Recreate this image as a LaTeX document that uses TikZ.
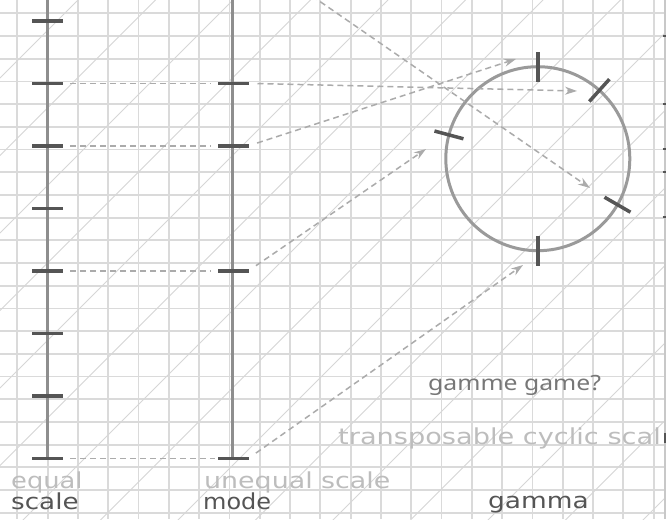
\documentclass[tikz,border=0pt]{standalone}
\usepackage{fontspec}
\usepackage{graphicx}
\newfontfamily\labfont{DejaVu Sans}
\newfontfamily\notefont{Noto Sans}
\usetikzlibrary{arrows.meta,calc}
\definecolor{gridc}{HTML}{DADADA}
\definecolor{diagc}{HTML}{D6D6D6}
\definecolor{axisc}{HTML}{8E8E8E}
\definecolor{tickc}{HTML}{555555}
\definecolor{dashc}{HTML}{ABABAB}
\definecolor{circc}{HTML}{9A9A9A}
\definecolor{faintc}{HTML}{BDBDBD}
\definecolor{darkc}{HTML}{555555}
\definecolor{notec}{HTML}{777777}
\begin{document}
\begin{tikzpicture}[x=1pt,y=-1pt,
  gridline/.style={gridc, line width=1.8pt},
  diagline/.style={diagc, line width=1pt},
  axisline/.style={axisc, line width=3pt},
  tickmark/.style={rectangle, fill=tickc, minimum width=31pt, minimum height=3.5pt, inner sep=0pt, outer sep=0pt},
  ctick/.style={tickc, line width=3.5pt},
  link/.style={dashc, line width=1.5pt, dash pattern=on 6pt off 4pt},
  linkarrow/.style={link, -{Stealth[length=12pt,width=8pt]}},
  faintlabel/.style={anchor=base west, inner sep=0pt, text=faintc, font=\labfont\fontsize{22}{26}\selectfont},
  darklabel/.style={anchor=base west, inner sep=0pt, text=darkc, font=\labfont\fontsize{22}{26}\selectfont},
  notelabel/.style={anchor=base west, inner sep=0pt, text=notec, font=\notefont\fontsize{21}{25}\selectfont},
  edgestub/.style={tickc, line width=2pt}
]
\useasboundingbox (0,0) rectangle (666,519);
\fill[white] (0,0) rectangle (666,519);
\begin{scope}
\clip (0,0) rectangle (666,519);
% background grid
\foreach \i in {0,...,21} \draw[gridline] ({17.3+30.3*\i},0) -- ({17.3+30.3*\i},519);
\foreach \j in {0,...,22} \draw[gridline] (0,{13.3+22.7*\j}) -- (666,{13.3+22.7*\j});
\foreach \k in {0,...,15} \draw[diagline] ({78+77.5*\k},0) -- (0,{78+77.5*\k});
% right edge fragment
\draw[gridc!80!gray, line width=2pt] (664.5,0) -- (664.5,519);
\foreach \yy in {36,104,149,172,217} \draw[edgestub] (662.5,\yy) -- (666,\yy);
\draw[edgestub] (664.5,433) -- (664.5,443);

% axes
\draw[axisline] (47,-5) -- (47,458.3);
\draw[axisline] (232,-5) -- (232,458.3);

% left ticks
\node[tickmark] (l1) at (47,20.8) {};
\node[tickmark] (l2) at (47,83.3) {};
\node[tickmark] (l3) at (47,145.8) {};
\node[tickmark] (l4) at (47,208.3) {};
\node[tickmark] (l5) at (47,270.8) {};
\node[tickmark] (l6) at (47,333.3) {};
\node[tickmark] (l7) at (47,395.8) {};
\node[tickmark] (l8) at (47,458.3) {};
% middle ticks
\node[tickmark] (m1) at (233,83.3) {};
\node[tickmark] (m2) at (233,145.8) {};
\node[tickmark] (m3) at (233,270.8) {};
\node[tickmark] (m4) at (233,458.3) {};

% cycle
\node[circle, draw=circc, line width=3pt, minimum size=184pt, inner sep=0pt, outer sep=0pt] (cyc) at (537.8,158.7) {};
\foreach \a in {90,48,165,-30,-90}
  \draw[ctick] ($(cyc.center)!77pt!(cyc.\a)$) -- ($(cyc.center)!107pt!(cyc.\a)$);

% arrow end points
\coordinate (e1) at (577,91);
\coordinate (e2) at (516,59);
\coordinate (e3) at (426,149);
\coordinate (e4) at (523,265);
\coordinate (e5) at (590,188);
\coordinate (s5) at (312,-4);

% connectors
\draw[link, shorten <=7.5pt, shorten >=7pt] (l2.east) -- (m1.west);
\draw[link, shorten <=7.5pt, shorten >=7pt] (l3.east) -- (m2.west);
\draw[link, shorten <=7.5pt, shorten >=7pt] (l5.east) -- (m3.west);
\draw[link, shorten <=7.5pt, shorten >=3pt] (l8.east) -- (m4.west);
\draw[linkarrow, shorten <=9pt] (m1.east) -- (e1);
\draw[linkarrow, shorten <=9pt] (m2.east) -- (e2);
\draw[linkarrow, shorten <=9pt] (m3.east) -- (e3);
\draw[linkarrow, shorten <=9pt] (m4.east) -- (e4);
\draw[linkarrow] (s5) -- (e5);

% labels
\node[faintlabel] (eq) at (11,488) {\scalebox{1.17}[1]{equal}};
\node[darklabel] (sc) at (11,509) {\scalebox{1.19}[1]{scale}};
\node[faintlabel] (uneq) at (204,488) {\scalebox{1.22}[1]{unequal scale}};
\node[darklabel] (mo) at (203,509) {\scalebox{1.09}[1]{mode}};
\node[darklabel] (ga) at (488,508) {\scalebox{1.2}[1]{gamma}};
\node[faintlabel] (tcs) at (338,444) {\scalebox{1.235}[1]{transposable cyclic scal}};
\node[notelabel] (gg) at (428,390) {\scalebox{1.18}[1]{gamme game?}};
\end{scope}
\end{tikzpicture}
\end{document}
